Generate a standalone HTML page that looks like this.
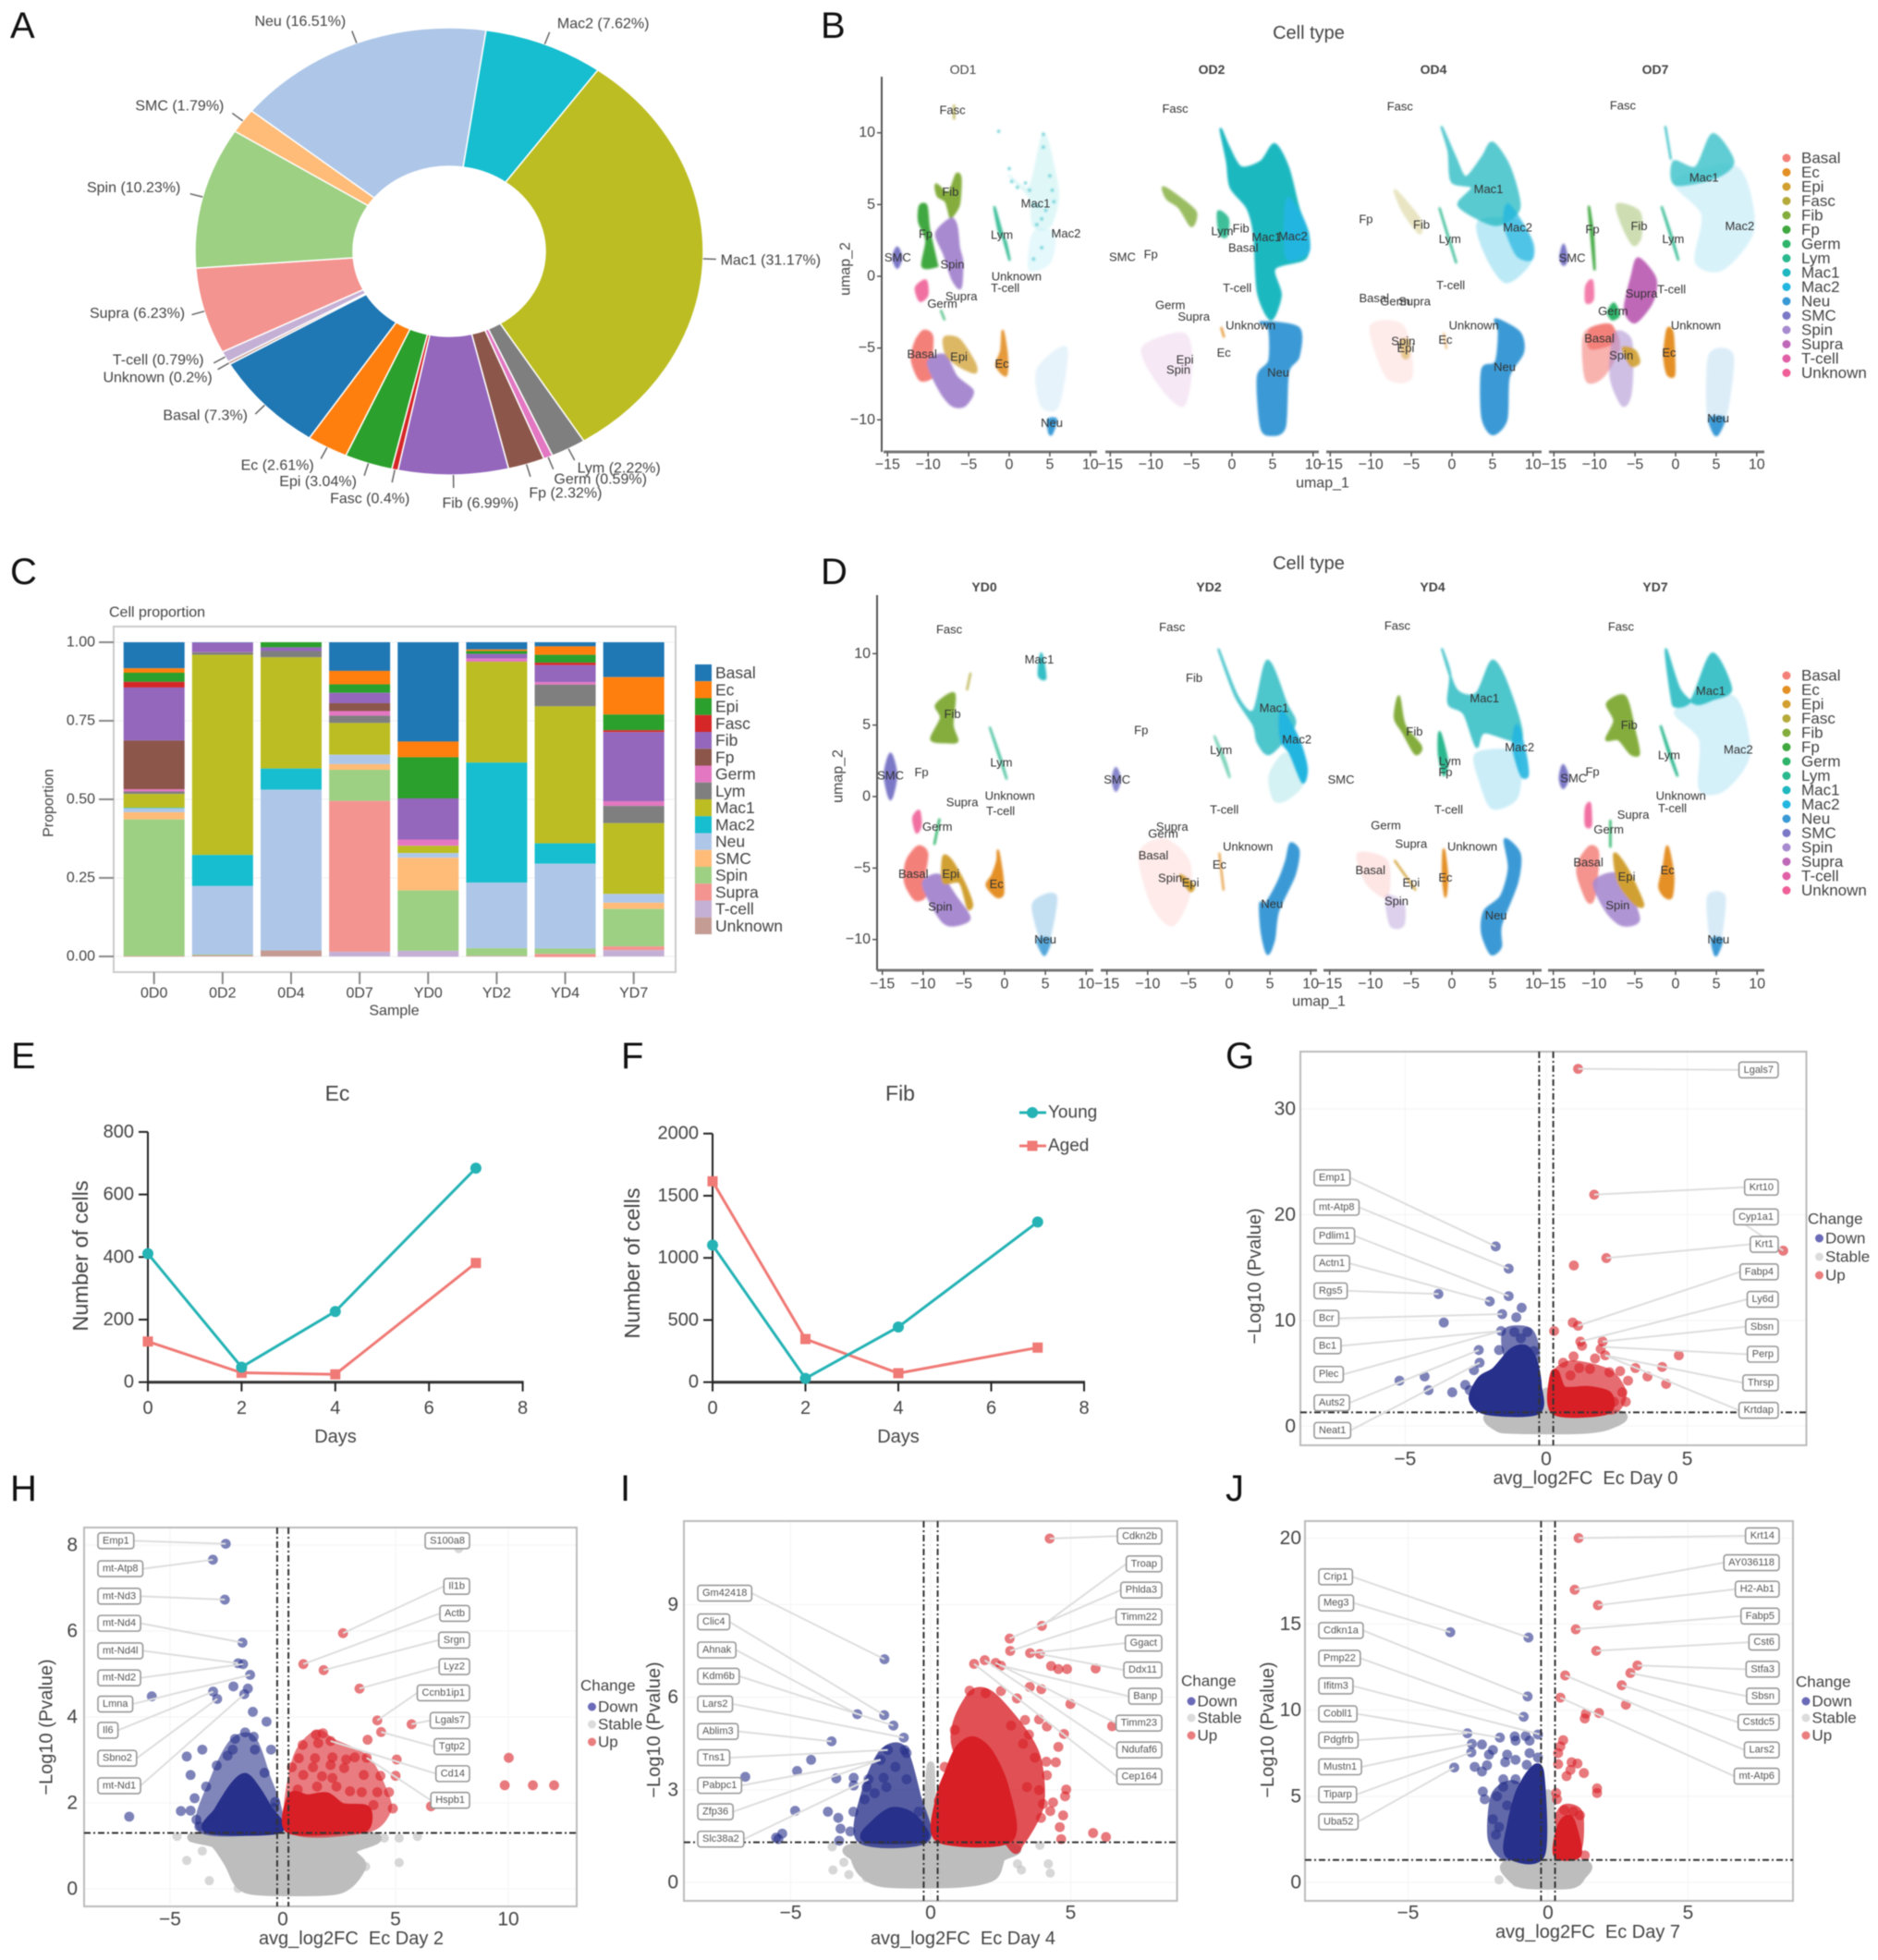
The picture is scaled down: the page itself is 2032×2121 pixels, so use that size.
<!DOCTYPE html>
<html lang="en">
<head>
<meta charset="utf-8">
<title>Cell type composition figure</title>
<style>
html,body{margin:0;padding:0;background:#fff;}
svg{display:block;filter:blur(0.5px);}
text{font-family:"Liberation Sans",sans-serif;fill:#444;white-space:pre;}
.letter{font-size:40px;fill:#111;}
</style>
</head>
<body>
<svg id="fig" xmlns="http://www.w3.org/2000/svg" width="2032" height="2121" viewBox="0 0 2032 2121">
<defs><filter id="soft" x="-5%" y="-5%" width="110%" height="110%"><feGaussianBlur stdDeviation="1.1"/></filter></defs>
<rect width="2032" height="2121" fill="#fff"/>
<text class="letter" x="11" y="41">A</text>
<text class="letter" x="888" y="41">B</text>
<text class="letter" x="11" y="632">C</text>
<text class="letter" x="888" y="632">D</text>
<text class="letter" x="12" y="1156">E</text>
<text class="letter" x="672" y="1156">F</text>
<text class="letter" x="1326" y="1156">G</text>
<text class="letter" x="11" y="1624">H</text>
<text class="letter" x="671" y="1624">I</text>
<text class="letter" x="1326" y="1624">J</text>
<g id="pA"></g>
<g id="pB"></g>
<g id="pC"></g>
<g id="pD"></g>
<g id="pE"></g>
<g id="pF"></g>
<g id="pG"></g>
<g id="pH"></g>
<g id="pI"></g>
<g id="pJ"></g>
</svg>
<script>
/* ===== Panel A data ===== */
const pieCategories=['Mac1','Lym','Germ','Fp','Fib','Fasc','Epi','Ec','Basal','Unknown','T-cell','Supra','Spin','SMC','Neu','Mac2'];
const pieValues=[31.17,2.22,0.59,2.32,6.99,0.4,3.04,2.61,7.3,0.2,0.79,6.23,10.23,1.79,16.51,7.62];
const pieLabelOffsets=[[59,1.5],[48,9],[51,11.5],[38,18],[29,17],[-24,18],[-50,7],[-47,7.5],[-54,2],[-65,9],[-60,-3],[-59,-1],[-61,-6],[-57,-7.5],[-56,-10],[58,-9]];
const tableau={Basal:'#1f77b4',Ec:'#ff7f0e',Epi:'#2ca02c',Fasc:'#d62728',Fib:'#9467bd',Fp:'#8c564b',Germ:'#e377c2',Lym:'#7f7f7f',Mac1:'#bcbd22',Mac2:'#17becf',Neu:'#aec7e8',SMC:'#ffbb78',Spin:'#9dd083',Supra:'#f49490','T-cell':'#c5b0d5',Unknown:'#c49c94'};

/* ===== Panel C data ===== */
const stackSamples=['0D0','0D2','0D4','0D7','YD0','YD2','YD4','YD7'];
const stackTypes=['Basal','Ec','Epi','Fasc','Fib','Fp','Germ','Lym','Mac1','Mac2','Neu','SMC','Spin','Supra','T-cell','Unknown'];
const stack0D0=[.083,.014,.029,.018,.169,.155,.007,.008,.044,.002,.012,.023,.435,.001,0,.001];
const stack0D2=[.001,0,0,0,.03,0,.001,.008,.637,.099,.218,0,.002,0,0,.004];
const stack0D4=[0,0,.016,0,.012,0,0,.02,.354,.067,.512,0,0,0,0,.019];
const stack0D7=[.091,.043,.027,0,.033,.025,.015,.023,.101,0,.03,.018,.099,.48,.015,0];
const stackYD0=[.316,.05,.131,0,.131,0,.02,0,.023,0,.015,.104,.192,0,.019,0];
const stackYD2=[.023,.005,.009,0,.015,0,.01,0,.321,.382,.209,0,.024,0,0,.002];
const stackYD4=[.013,.027,.025,.008,.054,0,.008,.069,.436,.065,.27,0,.017,.01,0,0];
const stackYD7=[.111,.119,.05,.006,.22,0,.015,.055,.225,0,.028,.02,.119,.012,.02,0];
const stackTicks=[0,.25,.5,.75,1];

/* ===== Panels E/F data ===== */
const dayValues=[0,2,4,7];
const ecYoung=[411,48,226,684];
const ecAged=[130,30,25,381];
const fibYoung=[1103,30,444,1289];
const fibAged=[1616,347,72,278];
const ecYTicks=[0,200,400,600,800];
const fibYTicks=[0,500,1000,1500,2000];
const dayTicks=[0,2,4,6,8];

/* ===== Panels B/D data (cluster outlines and labels in umap units) ===== */
const umapColors={Basal:'#f4807a',Ec:'#e49025',Epi:'#d1a030',Fasc:'#b5aa3a',Fib:'#84ad3d',Fp:'#3fa83f',Germ:'#2eb56b',Lym:'#2ab88f',Mac1:'#1fb8c0',Mac2:'#22b5e0',Neu:'#3a9ad6',SMC:'#7b78c8',Spin:'#a88ad0',Supra:'#c068b8','T-cell':'#e060a8',Unknown:'#f06098'};
const umapLegendNames=['Basal','Ec','Epi','Fasc','Fib','Fp','Germ','Lym','Mac1','Mac2','Neu','SMC','Spin','Supra','T-cell','Unknown'];
const umapXTicks=[-15,-10,-5,0,5,10];
const umapYTicks=[-10,-5,0,5,10];
const od1Layers=[
['Mac1',.12,[[0,7],[2.5,6.2],[4.2,9.9],[5.5,7.5],[6,5.5],[5,3.5],[3,3.5],[2.5,5.5]]],
['Mac2',.1,[[3,3],[5.5,3],[5,1],[2.5,.5]]],
['Mac1','d',[[-1.3,10.1],[4.2,9.9],[4.2,9],[0,7.5],[.3,6.6],[1,6.2],[2,6.5],[2.5,6],[3,5],[3.6,4.9],[4.5,4.6],[4,4],[3.4,3.6],[5,7],[5.3,6],[5.5,5.2],[4,2],[3,1.2]]],
['Lym',.9,[[-1.8,4.8],[-1.2,3],[-.5,2.5],[0,1.2]]],
['Fib',1,[[-9,6.4],[-7.5,5.8],[-6.5,7.1],[-6,6.8],[-6.2,5],[-7,4.2],[-7.2,4],[-7.8,5.2],[-8.8,5.6]]],
['Fp',1,[[-11,4.9],[-10.2,4.9],[-9.9,3.3],[-9,1],[-9,.7],[-10.7,.7],[-10.2,2.5],[-11.1,3.8]]],
['Spin',1,[[-7.2,4],[-6.5,3.5],[-6.2,2],[-5.8,1],[-6,-.8],[-7,-.2],[-8,1.5],[-9,3]]],
['SMC',1,[[-13.8,2],[-13.3,1.3],[-13.8,.6],[-14.3,1.3]]],
['Unknown',.9,[[-11.5,-.8],[-10.3,-.3],[-10.1,-1.3],[-11,-1.7]]],
['Germ',.8,[[-8.4,-2.4],[-8,-3]]],
['Basal',1,[[-10.5,-3.8],[-9.5,-4.2],[-9.6,-6],[-9.5,-7],[-11,-7.2],[-12,-5.8],[-11.5,-4.5]]],
['Spin',1,[[-10,-6],[-8,-5.5],[-6.5,-7],[-4.5,-8],[-5.5,-9],[-7,-9],[-8.5,-8]]],
['Epi',.75,[[-8,-4.3],[-6.2,-4.4],[-4.3,-6],[-4.2,-6.7],[-6,-6.3],[-7.7,-5.5]]],
['Ec',.9,[[-.8,-3.8],[-.3,-5.5],[-.4,-6.9],[-1.6,-6.2],[-1,-5.2]]],
['Neu',.12,[[3.5,-6.5],[7,-5],[6,-9],[4,-9]]],
['Neu',1,[[4.8,-10],[5.8,-10],[5.2,-11],[4.9,-10.8]]],
['Fasc',.8,[[-6.8,11.9],[-6.8,11]]]
];
const od2Layers=[
['Fib',.8,[[-8.5,6.2],[-7,5.7],[-4.5,4.5],[-5,3.5],[-6.5,4.8],[-8,5.4]]],
['Lym',.9,[[-1.7,4.5],[-.5,4],[-.7,2.8],[-1.5,3]]],
['Ec',.9,[[-1.3,-3.6],[-1,-4.2]]],
['Mac1',1,[[-1.4,10.25],[-.4,9],[1.1,7.6],[3.6,8],[5.25,9.2],[6.9,7.6],[8.2,4.75],[9.4,2.9],[9,1.25],[5.25,.55],[6,-1.3],[4.8,-3],[3.2,-1.1],[2.75,2.9],[1.9,4.75],[-.15,6.2],[-.6,8]]],
['Mac2',1,[[6.9,5.45],[9,3.6],[9.4,1.7],[6.9,1.2],[6.5,3]]],
['Neu',1,[[3.6,-3.2],[8.2,-3.6],[8.2,-5.6],[6.9,-6.7],[6.5,-10.5],[4.8,-11.05],[3.6,-10.5],[3.2,-7],[4.6,-5.9],[4.6,-3.7]]],
['Supra',.15,[[-11,-5],[-6,-4],[-5,-6],[-6,-9],[-9,-7.5]]]
];
const od4Layers=[
['Lym',.9,[[-1.5,4.7],[-.5,2.8],[.5,1]]],
['Fasc',.3,[[-7,6],[-4,4],[-4,3],[-6,4.5]]],
['Mac2',.3,[[3.3,3.8],[8.3,3.8],[9.8,1.25],[6.7,-.4],[4.2,1.5]]],
['Mac1',.75,[[-1.25,10.4],[.4,8.3],[1.7,6.9],[3.75,8.3],[5,9.3],[7.1,7.6],[8.3,4.75],[5.8,3.6],[3.3,4],[.8,5],[2.5,6.2],[0,6.6],[-.4,8.7]]],
['Mac2',.7,[[7,5],[9.8,2.5],[9.8,1.2],[8,1.5],[6.5,3.6]]],
['Neu',1,[[5.4,-3],[8.3,-3.9],[8.75,-5.3],[7,-7],[6.7,-10],[5,-11],[3.75,-9.8],[3.75,-6.5],[5.4,-6],[5.8,-3.9]]],
['Basal',.15,[[-10,-3.5],[-6,-3.5],[-5,-7],[-8,-7]]],
['Epi',.5,[[-6.3,-4.5],[-5.3,-4.5],[-5.4,-5.6],[-6,-5.6]]],
['Ec',.5,[[-1,-4],[-.7,-5]]]
];
const od7Layers=[
['Mac2',.18,[[0,6.6],[7.5,7.6],[9.6,3.35],[5.8,.5],[2.5,1],[3.3,4.3]]],
['Mac1',.7,[[4.6,9.9],[7.1,8],[5,6.9],[0,6.4],[-.2,8],[2.5,7.6]]],
['Mac1',.8,[[-1.25,10.4],[-.6,8.2]]],
['Lym',.9,[[-1.7,4.8],[-.5,2.8],[.3,1.2]]],
['Fp',.95,[[-10.7,4.8],[-10.2,3],[-10,.5]]],
['Fib',.4,[[-7.2,5],[-4.5,4.5],[-4.3,2.8],[-5.2,2.2],[-6.5,3.5]]],
['SMC',1,[[-13.8,2.2],[-13.4,1.2],[-13.8,.8],[-14.2,1.3]]],
['Unknown',.8,[[-11,-.7],[-10.3,-.3],[-10.2,-1.6],[-11,-1.8]]],
['Supra',1,[[-4.6,1.25],[-2.5,-.15],[-2.9,-1.8],[-5,-3.2],[-6.25,-2.3],[-5.4,0]]],
['Germ',1,[[-7.6,-1.9],[-7,-2.7],[-7.8,-3],[-8.3,-2.5]]],
['Basal',.6,[[-11.2,-4],[-8,-3.5],[-7,-5],[-9,-7],[-11,-7.2]]],
['Basal',1,[[-10.5,-3.7],[-8,-3.4],[-7.7,-4.6],[-10.5,-5]]],
['Spin',.55,[[-7.5,-4],[-5.5,-4.5],[-5.5,-8],[-6.5,-9],[-8,-7]]],
['Epi',.9,[[-6.5,-5],[-5,-5.2],[-4.5,-6],[-5.5,-6.2]]],
['Ec',1,[[-1,-3.7],[-.4,-3.9],[-.2,-5.5],[-.2,-6.9],[-1,-6.8],[-1.4,-5.5]]],
['Neu',.18,[[4.2,-5.5],[7,-5.5],[6.25,-9.5],[5,-10.5],[4,-9.8]]],
['Neu',1,[[4.2,-9.9],[6,-9.9],[5.2,-11],[4.7,-10.9]]]
];
const yd0Layers=[
['Mac1',.9,[[4.5,10],[4.2,8.5],[5,8.3]]],
['Lym',.8,[[-1.8,4.8],[-.5,2.7],[.2,1.3]]],
['Fasc',.8,[[-4.2,8.6],[-4.6,7.5]]],
['Fib',1,[[-8.4,6.4],[-6.2,7.2],[-6.4,5],[-5.8,3.9],[-7,3.8],[-9,4],[-7.8,5.5]]],
['SMC',1,[[-14,3],[-13.3,1.5],[-14,-.2],[-14.7,1.5]]],
['Germ',1,[[-8,-1.6],[-8.6,-3.3]]],
['Unknown',.9,[[-11.2,-1.5],[-10.5,-1],[-10.3,-2],[-10.8,-2.5]]],
['Basal',1,[[-10.6,-3.5],[-9.5,-4],[-10,-6],[-9.8,-7],[-11,-7.2],[-12.2,-6],[-12,-4.5]]],
['Spin',1,[[-10,-6],[-8,-5.5],[-6,-7],[-4.3,-8.5],[-6,-9],[-7.5,-8.8],[-9,-7.5]]],
['Epi',1,[[-7.5,-4.2],[-6.5,-4.5],[-5,-6],[-4,-7.5],[-4.5,-7.8],[-5.5,-6],[-7.5,-6]]],
['Ec',1,[[-.8,-3.8],[-.3,-5.5],[-.2,-6.8],[-1,-7],[-2.2,-6.2],[-1.5,-5.5],[-.9,-4.5]]],
['Neu',.3,[[3.5,-7.5],[6.3,-7],[5,-11],[4.4,-10]]],
['Neu',.8,[[4,-10],[5.6,-10],[5,-11],[4.6,-10.9]]]
];
const yd2Layers=[
['Mac1',.2,[[7,3],[9,1],[7,-.2],[5.5,-.2],[5,1.5]]],
['Mac1',.8,[[-1.3,10.3],[1,7],[3,6],[4.7,9.5],[7,6.5],[8,5],[5,3],[3.5,3.8],[3,5],[.8,7]]],
['Mac2',1,[[6.5,6],[8.5,4],[9.5,2],[9,1],[7.5,3],[6.5,3.8],[6.2,5]]],
['Neu',1,[[7.5,-3.3],[8.5,-3.8],[8,-5.5],[6,-8],[5.5,-10],[4.7,-11],[4,-9.5],[3.8,-7.5],[4.5,-7.5],[6,-6],[7,-4.5]]],
['Basal',.16,[[-11,-4],[-8,-3],[-5,-4.5],[-5,-7],[-7,-9],[-9.5,-7.5]]],
['Ec',.8,[[-1.2,-4],[-.7,-6.5]]],
['Lym',.6,[[-1.8,4.2],[-.5,2.5],[0,1.4]]],
['SMC',.9,[[-13.9,2],[-13.4,1.2],[-13.9,.4],[-14.3,1.2]]],
['Epi',1,[[-6,-5.5],[-4.4,-6.2],[-4.8,-6.6]]]
];
const yd4Layers=[
['Mac2',.24,[[3,3],[8,3],[8,0],[5,-.8],[3.5,1]]],
['Mac1',.8,[[-1.2,10.3],[.5,7.5],[3,7.2],[5,9.5],[7,7.5],[8.5,4],[4,4.5],[3,3.5],[1.5,5.8],[-.4,6.5],[-.2,8.5]]],
['Mac2',.9,[[8,5],[9,3],[9.3,1.5],[8.5,1.5],[7.5,3.5]]],
['Neu',1,[[6.5,-3],[8.3,-4],[8,-6],[6,-9],[6,-10.5],[4.8,-11],[3.7,-9.5],[4,-8],[6,-7],[7,-5]]],
['Fib',1,[[-6.5,7],[-5.8,5],[-3.8,3.5],[-4.5,3],[-6,4.5],[-7,5.5]]],
['Lym',1,[[-1.5,4.5],[-.6,2.5],[-1,1.5],[-1.6,3]]],
['Basal',.2,[[-11.5,-4],[-8,-4.5],[-8,-7],[-10.5,-6]]],
['Spin',.4,[[-8,-7],[-6,-7.5],[-6,-9],[-7.5,-9]]],
['Epi',.9,[[-7,-4.5],[-4.5,-6.5]]],
['Ec',1,[[-1,-3.7],[-.6,-5.5],[-.8,-7],[-1.1,-5.5]]]
];
const yd7Layers=[
['Mac2',.2,[[0,6],[7,7],[9,3],[6,.5],[3,.5],[3,4]]],
['Mac1',.85,[[-1.2,10.3],[-.5,7],[0,6.3],[2,6.8],[4.5,10],[6.8,7.5],[4.5,6.8],[2.5,6.5],[.5,7.5]]],
['Fib',1,[[-8.4,6.5],[-6.2,7],[-5,4.5],[-4.5,3],[-5.5,3],[-7,4],[-8.5,4],[-7.5,5.3]]],
['Lym',1,[[-1.8,4.9],[-.8,3],[.2,1.5]]],
['SMC',1,[[-13.8,2.2],[-13.2,1.3],[-13.8,.6],[-14.2,1.3]]],
['Unknown',.9,[[-11,-.8],[-10.5,-.5],[-10.4,-2],[-11,-2]]],
['Germ',1,[[-8,-1.7],[-8,-3.5]]],
['Basal',.85,[[-10.5,-3.5],[-9.5,-4],[-10,-7],[-10.8,-7.3],[-12,-5.5],[-11.8,-4.5]]],
['Spin',.9,[[-10,-6],[-7,-5.5],[-4.5,-8.5],[-6.5,-9],[-8.5,-8]]],
['Epi',1,[[-7.5,-4],[-6,-5],[-4,-7.5],[-5,-7.5],[-7,-6]]],
['Ec',1,[[-1,-3.5],[-.3,-5.5],[-.5,-7],[-1.3,-7],[-2,-6.3],[-1.5,-5]]],
['Neu',.2,[[4,-7],[6,-7],[5.5,-10],[5,-11],[4.3,-10]]],
['Neu',1,[[4.5,-10],[5.7,-10],[5.1,-11],[4.8,-11]]]
];
const od1Labels=[['Fasc',-7,11.6],['Fib',-7.25,5.9],['Mac1',3.25,5.1],['Mac2',7,3],['Lym',-.9,2.9],['Fp',-10.3,2.95],['SMC',-13.75,1.33],['Spin',-7,.85],['Unknown',.9,0],['T-cell',-.5,-.8],['Supra',-5.9,-1.4],['Germ',-8.25,-1.9],['Basal',-10.75,-5.4],['Epi',-6.2,-5.6],['Ec',-.9,-6.1],['Neu',5.25,-10.2]];
const od2Labels=[['Fasc',-7,11.7],['Fib',1.1,3.35],['Lym',-1.2,3.15],['Mac1',4.25,2.75],['Mac2',7.5,2.8],['Basal',1.4,2],['SMC',-13.5,1.35],['Fp',-10,1.55],['T-cell',.65,-.8],['Germ',-7.6,-2],['Supra',-4.7,-2.8],['Unknown',2.3,-3.4],['Ec',-1,-5.3],['Epi',-5.8,-5.8],['Spin',-6.6,-6.5],['Neu',5.7,-6.7]];
const od4Labels=[['Fasc',-6.4,11.85],['Fp',-10.6,4],['Mac1',4.5,6.1],['Mac2',8.1,3.4],['Fib',-3.75,3.6],['Lym',-.25,2.6],['T-cell',-.15,-.6],['Basal',-9.6,-1.5],['Germ',-7,-1.75],['Supra',-4.6,-1.75],['Unknown',2.7,-3.4],['Ec',-.8,-4.4],['Spin',-6,-4.5],['Epi',-5.7,-5],['Neu',6.5,-6.3]];
const od7Labels=[['Fasc',-6.5,11.9],['Mac1',3.5,6.9],['Mac2',7.9,3.5],['Fp',-10.25,3.3],['Fib',-4.5,3.5],['Lym',-.3,2.6],['SMC',-12.75,1.3],['T-cell',-.5,-.9],['Supra',-4.2,-1.2],['Germ',-7.7,-2.4],['Unknown',2.5,-3.4],['Basal',-9.4,-4.3],['Ec',-.8,-5.3],['Spin',-6.7,-5.5],['Neu',5.25,-9.9]];
const yd0Labels=[['Fasc',-6.8,11.7],['Mac1',4.25,9.6],['Fib',-6.4,5.8],['Lym',-.4,2.4],['Fp',-10.2,1.7],['SMC',-14,1.5],['Unknown',.65,.05],['Supra',-5.2,-.4],['T-cell',-.5,-1],['Germ',-8.25,-2.1],['Basal',-11.2,-5.4],['Epi',-6.6,-5.4],['Ec',-1,-6.1],['Spin',-7.9,-7.7],['Neu',5,-10]];
const yd2Labels=[['Fasc',-7,11.85],['Fib',-4.3,8.3],['Mac1',5.5,6.2],['Fp',-10.8,4.65],['Mac2',8.3,4],['Lym',-1,3.25],['SMC',-13.75,1.2],['T-cell',-.6,-.9],['Supra',-7,-2.1],['Germ',-8.1,-2.6],['Unknown',2.3,-3.5],['Basal',-9.3,-4.1],['Ec',-1.2,-4.75],['Spin',-7.25,-5.7],['Epi',-4.75,-6],['Neu',5.25,-7.5]];
const yd4Labels=[['Fasc',-6.7,11.95],['Mac1',4,6.9],['Fib',-4.6,4.55],['Mac2',8.3,3.45],['Lym',-.25,2.5],['Fp',-.8,1.7],['SMC',-13.6,1.2],['T-cell',-.4,-.9],['Germ',-8.1,-2],['Supra',-5,-3.3],['Unknown',2.5,-3.5],['Basal',-10,-5.15],['Ec',-.8,-5.65],['Epi',-5,-6],['Spin',-6.8,-7.3],['Neu',5.4,-8.3]];
const yd7Labels=[['Fasc',-6.7,11.9],['Mac1',4.3,7.4],['Fib',-5.7,5],['Mac2',7.7,3.3],['Lym',-.8,2.9],['Fp',-10.2,1.75],['SMC',-12.5,1.3],['Unknown',.65,.05],['T-cell',-.4,-.8],['Supra',-5.2,-1.25],['Germ',-8.2,-2.3],['Basal',-10.7,-4.6],['Ec',-1,-5.15],['Epi',-6,-5.6],['Spin',-7.1,-7.6],['Neu',5.25,-10]];

/* ===== Volcano data: log2FC / -log10 p ===== */
const gXTicks=[-5,0,5];
const gYTicks=[0,10,20,30];
const gUp=[[1.13,33.8],[1.7,21.9],[2.13,15.9],[.98,15.2],[8.4,16.6],[.94,9.8],[1.13,9.5],[.28,9],[1.21,8],[1.27,7.6],[2,8],[4.7,6.7],[2.09,6.7],[.97,6.6],[1.73,6.4],[3.16,5.5],[4.11,5.6],[2.62,5.2],[2.24,5.1],[3.59,4.7],[2.9,4.3],[4.25,4],[2.7,3.2],[2.82,2.3],[2.4,2.3],[.6,6],[1.17,5.5],[1.55,5.4],[.86,4.8],[1.93,7.3]];
const gDown=[[-1.79,17],[-1.33,14.9],[-1.33,12.3],[-3.82,12.5],[-2,11.8],[-.87,11.2],[-1.56,10.6],[-1.06,10.3],[-3.63,9.8],[-1.6,9],[-1.13,8.9],[-.67,8.9],[-.9,8.3],[-2.39,7.2],[-1.67,7.2],[-.44,7.1],[-2.36,6],[-2.56,5.3],[-4.31,4.7],[-5.2,4.3],[-4.17,3.4],[-3.33,3.2],[-2.87,3.9],[-2.71,3.4],[-2.56,2.5]];
const gStable=[[-1.7,.5],[2.5,.5]];
const gDownCore=[[-2.6,2.6],[-2.3,4.4],[-1.8,5.2],[-1.2,7],[-.75,7.3],[-.45,6.1],[-.3,3.8],[-.35,1.45],[-2.1,1.45]];
const gDownHalo=[[-1.3,6.5],[-1.4,8.9],[-.6,8.9],[-.4,6.5]];
const gUpCore=[[.3,1.45],[.3,5],[.6,3.4],[1.5,3.4],[2.2,2.9],[2.1,1.45]];
const gUpHalo=[[.3,4],[.8,5.8],[2.2,5],[2.7,3],[2.2,1.5]];
const gStableCore=[[-1.8,1.1],[2.5,1.1],[2.2,.1],[1.2,-.3],[-1,-.3],[-1.7,-.1]];
const gStableHalo=[[-.35,1.2],[0,3.3],[.3,1.2]];
const gLeftLabels=[['Emp1',23.5,-1.79,17],['mt-Atp8',20.7,-1.33,14.9],['Pdlim1',18,-1.33,12.3],['Actn1',15.4,-2,11.8],['Rgs5',12.8,-3.82,12.5],['Bcr',10.2,-1.56,10.6],['Bc1',7.6,-1.6,9],['Plec',4.9,-1.6,9],['Auts2',2.2,-2.39,7.2],['Neat1',-.4,-2.36,6]];
const gRightLabels=[['Lgals7',33.7,1.13,33.8],['Krt10',22.6,1.7,21.9],['Cyp1a1',19.8,8.4,16.6],['Krt1',17.2,2.13,15.9],['Fabp4',14.6,1.13,9.5],['Ly6d',12,1.21,8],['Sbsn',9.4,2,8],['Perp',6.8,2,7.5],['Thrsp',4.1,2.09,6.7],['Krtdap',1.5,2.09,6.7]];

const hXTicks=[-5,0,5,10];
const hYTicks=[0,2,4,6,8];
const hUp=[[2.67,5.95],[.91,5.23],[1.81,5.09],[3.4,4.66],[4.19,3.92],[5.71,3.83],[4.36,3.65],[1.78,3.62],[1.47,3.59],[2.12,3.44],[3.76,3.47],[.88,3.35],[1.57,3.39],[.71,3.04],[1.43,3.04],[2.2,3.06],[2.81,3.01],[3.19,3.06],[3.72,3.05],[5.05,3.01],[10.02,3.05],[.4,2.83],[1.34,2.83],[2.12,2.88],[2.72,2.81],[.91,2.65],[1.74,2.62],[2.2,2.58],[3.59,2.65],[4.33,2.63],[5,2.63],[9.84,2.41],[11.09,2.41],[12.03,2.41],[1.52,2.38],[2.38,2.38],[.66,2.31],[2.98,2.27],[3.5,2.25],[4.19,2.25],[4.71,2.25],[4.02,1.95],[4.88,1.87],[6.57,1.92],[3.64,1.54]];
const hDown=[[-2.53,8.03],[-3.1,7.66],[-2.57,6.73],[-1.79,5.73],[-1.98,5.25],[-1.76,5.23],[-1.45,4.98],[-2.19,4.71],[-1.55,4.66],[-1.71,4.53],[-3.09,4.59],[-2.91,4.42],[-5.81,4.48],[-1.33,4.12],[-.72,3.89],[-1.67,3.64],[-1.29,3.54],[-2.12,3.49],[-1.24,3.24],[-.52,3.24],[-2.22,3.24],[-3.57,3.24],[-4.26,3.08],[-2.45,3.1],[-2.93,2.87],[-4.09,2.65],[-.81,2.7],[-3.4,2.38],[-3.91,2.11],[-4.52,1.81],[-4.09,1.82],[-6.81,1.68],[-3.83,1.61],[-.34,2.02],[-.38,1.88],[-3.7,1.45],[-3.14,1.63]];
const hStable=[[-4.69,1.22],[-3.57,.88],[-4.26,.66],[-3.26,.19],[-1.98,.01],[4.5,1.18],[5.16,1.18],[5.97,1.22],[5.16,.61],[3.67,.52],[7.8,7.92]];
const hDownCore=[[-3.3,1.38],[-2.88,1.81],[-2.19,2.38],[-1.67,2.6],[-1.16,2.3],[-.64,1.85],[-.2,1.38]];
const hDownHalo=[[-3.6,1.4],[-3,2.6],[-2.2,3.4],[-1.4,3.5],[-.8,2.7],[-.3,1.5]];
const hUpCore=[[.3,1.38],[.4,2.15],[1.09,2.1],[1.95,2.15],[2.64,1.9],[3.7,1.85],[3.7,1.45],[2.98,1.38]];
const hUpHalo=[[.4,1.4],[.6,3],[1.5,3.6],[2.2,3.4],[3.7,3],[4.5,2.2],[4.6,1.8],[3.7,1.4]];
const hStableCore=[[-3.7,1.22],[3.9,1.22],[3,.9],[3.5,.55],[2.9,.1],[2,-.05],[-1,-.05],[-1.9,.1],[-2.4,.6],[-3,1.05]];
const hStableHalo=[[-.25,1.22],[0,1.3],[.25,1.22]];
const hLeftLabels=[['Emp1',8.1,-2.53,8.03],['mt-Atp8',7.45,-3.1,7.66],['mt-Nd3',6.81,-2.57,6.73],['mt-Nd4',6.18,-1.79,5.73],['mt-Nd4l',5.54,-1.98,5.25],['mt-Nd2',4.91,-1.76,5.23],['Lmna',4.3,-1.45,4.98],['Il6',3.69,-3.09,4.59],['Sbno2',3.04,-2.91,4.42],['mt-Nd1',2.4,-1.71,4.53]];
const hRightLabels=[['S100a8',8.1,7.8,7.92],['Il1b',7.04,2.67,5.95],['Actb',6.41,.91,5.23],['Srgn',5.79,1.81,5.09],['Lyz2',5.17,3.4,4.66],['Ccnb1ip1',4.56,4.19,3.92],['Lgals7',3.92,5.71,3.83],['Tgtp2',3.31,4.36,3.65],['Cd14',2.68,2.12,3.44],['Hspb1',2.06,3.72,3.05]];

const iXTicks=[-5,0,5];
const iYTicks=[0,3,6,9];
const iUp=[[4.25,11.14],[3.97,8.31],[2.82,7.9],[2.84,7.5],[3.55,7.43],[3.9,7.4],[1.55,7.08],[1.93,7.2],[2.32,7.11],[2.51,7.02],[4.3,7.01],[4.56,6.91],[4.87,6.91],[5.89,6.93],[3.54,6.33],[3.95,6.26],[4.99,5.78],[1.39,6.21],[1.96,6.13],[2.51,6.2],[3.08,5.96],[6.48,5.06],[4.15,5.05],[3.37,5.26],[3.87,5.28],[4.76,4.81],[.86,4.94],[4.56,4.39],[4.47,3.89],[4.13,3.91],[4.15,3.47],[4.84,3.01],[4.8,2.79],[4.37,2.59],[4.01,2.54],[4.27,2.31],[4.73,2.17],[4.61,1.79],[5.8,1.6],[6.26,1.47],[4.66,1.4],[3.94,2.09],[.5,3.74],[.29,2.64],[3.44,3.09],[2.87,5.08],[3.51,4.79],[3.3,4.49],[3.87,2.99],[3.72,4.04]];
const iDown=[[-1.65,7.23],[-2.62,5.45],[-1.66,5.42],[-1.33,5.08],[-.96,4.69],[-3.54,4.57],[-1.53,4.29],[-.93,4.29],[-.86,4.19],[-4.27,3.97],[-4.77,3.61],[-6.62,3.42],[-1.79,3.97],[-1.26,3.74],[-3.37,3.37],[-2.75,3.39],[-2.75,3.14],[-2.22,3.34],[-1.68,3.39],[-.86,3.34],[-4.84,2.32],[-3.67,2.29],[-3.3,2.09],[-2.76,2.29],[-3.22,1.74],[-2.87,1.65],[-3.27,1.35],[-5.3,1.58],[-5.52,1.45],[-5.44,1.4],[-2.36,2.69],[-.43,2.29],[-2.29,3.09],[-1.58,3.09],[-2,2.89]];
const iStable=[[-3.49,.4],[-2.92,.25],[3.1,.6],[3.24,.4],[4.2,.6],[4.27,.3],[3.9,1.2],[-3.52,1.15],[-3.1,.65],[-2.29,.15]];
const iDownCore=[[-2.3,1.42],[-2,1.9],[-1.4,2.3],[-.8,2.2],[-.35,1.8],[-.32,1.42]];
const iDownHalo=[[-2.5,1.4],[-2.3,3],[-1.7,4.2],[-1,4.3],[-.5,2.8],[-.2,1.4]];
const iUpCore=[[.31,1.42],[.31,2.69],[.62,3.5],[1,4.3],[1.5,4.6],[2.08,4.2],[2.65,3.05],[2.8,1.42]];
const iUpHalo=[[.9,4.4],[1.4,6],[2.1,6.1],[3.2,5],[3.8,4],[3.9,2.5],[3.2,1.3],[2.8,1.3]];
const iStableCore=[[-2.6,1.12],[2.8,1.12],[2.5,.8],[2.2,.2],[1,-.02],[-1.6,-.02],[-2.4,.3],[-2.7,.8]];
const iStableHalo=[[-.2,1.2],[0,3.8],[.05,1.2]];
const iLeftLabels=[['Gm42418',9.37,-1.65,7.23],['Clic4',8.44,-1.66,5.42],['Ahnak',7.53,-2.62,5.45],['Kdm6b',6.68,-1.33,5.08],['Lars2',5.78,-.96,4.69],['Ablim3',4.89,-3.54,4.57],['Tns1',4.04,-1.53,4.29],['Pabpc1',3.14,-1.79,3.97],['Zfp36',2.29,-1.79,3.97],['Slc38a2',1.4,-2.22,3.34]];
const iRightLabels=[['Cdkn2b',11.22,4.25,11.14],['Troap',10.32,3.97,8.31],['Phlda3',9.47,2.82,7.9],['Timm22',8.6,2.84,7.5],['Ggact',7.75,3.55,7.43],['Ddx11',6.88,3.9,7.4],['Banp',6.03,2.51,7.02],['Timm23',5.16,2.32,7.11],['Ndufaf6',4.29,1.93,7.2],['Cep164',3.43,1.55,7.08]];

const jXTicks=[-5,0,5];
const jYTicks=[0,5,10,15,20];
const jUp=[[1.09,20],[.95,17],[1.78,16.1],[.99,14.7],[1.72,13.45],[3.19,12.6],[2.94,12.16],[.61,12.02],[2.63,11.45],[.44,10.73],[2.78,10.32],[1.35,9.8],[1.82,9.84],[1.31,9.52],[.54,8.26],[.44,7.9],[.36,7.51],[.36,6.87],[.84,6.98],[1.05,6.9],[.8,6.53],[.66,6.17],[1.28,6.35],[1.75,5.46],[1.75,5.19],[.29,5.19],[.32,4.83],[1.14,3.9],[.58,4.2],[.9,4.11],[1.31,1.57]];
const jDown=[[-.7,14.22],[-3.49,14.53],[-.73,10.8],[-.87,9.62],[-2.88,8.66],[-1.72,8.41],[-1.19,8.48],[-.8,8.5],[-.36,8.59],[-1.16,8.23],[-.66,8.23],[-2.72,8.05],[-2.36,8.01],[-2.74,7.55],[-1.97,7.69],[-2.11,7.42],[-1.46,7.42],[-.66,7.51],[-.36,7.25],[-1.53,6.98],[-1.16,7.12],[-.76,6.83],[-3.35,6.67],[-2.62,6.71],[-2.18,6.8],[-2.36,6.44],[-1.6,5.99],[-1.16,5.99],[-2.33,5.28],[-1.82,5],[-2.26,4.83],[-1.6,5.55],[-1.97,3.67],[-1.75,3.22],[-1.86,2.77],[-1.46,4.47]];
const jStable=[[-1.75,.15],[-1.13,0]];
const jDownCore=[[-1.4,1.65],[-1.31,3.4],[-1.02,5.19],[-.58,6.4],[-.28,6.3],[-.25,1.65]];
const jDownHalo=[[-2,2.5],[-1.9,5],[-1.3,5.7],[-1,5],[-1.4,1.6]];
const jUpCore=[[.33,1.65],[.46,3.2],[.73,3.7],[.9,3.1],[1.05,1.65]];
const jUpHalo=[[.4,3.5],[.6,4.3],[1.1,4],[1.05,2]];
const jStableCore=[[-1.4,1.05],[1.25,1.05],[1.2,.4],[.8,-.1],[-.8,-.1],[-1.3,.3]];
const jStableHalo=[[-.2,1.25],[-.1,4.5],[0,5.2],[.1,4.5],[.25,1.25]];
const jLeftLabels=[['Crip1',17.75,-.7,14.22],['Meg3',16.23,-3.49,14.53],['Cdkn1a',14.63,-.73,10.8],['Pmp22',13.02,-.87,9.62],['Ifitm3',11.41,-.3,8.6],['Cobll1',9.79,-1.72,8.41],['Pdgfrb',8.26,-2.88,8.66],['Mustn1',6.71,-2.72,8.05],['Tiparp',5.1,-2.74,7.55],['Uba52',3.52,-3.35,6.67]];
const jRightLabels=[['Krt14',20.13,1.09,20],['AY036118',18.57,.95,17],['H2-Ab1',17.03,1.78,16.1],['Fabp5',15.47,.99,14.7],['Cst6',13.95,1.72,13.45],['Stfa3',12.38,3.19,12.6],['Sbsn',10.82,2.94,12.16],['Cstdc5',9.3,2.63,11.45],['Lars2',7.69,.61,12.02],['mt-Atp6',6.17,.44,10.73]];

/* ===== Helpers ===== */
const NS='http://www.w3.org/2000/svg';
function mk(tag,attrs,parent,content){
  const e=document.createElementNS(NS,tag);
  for(const k in attrs)e.setAttribute(k,attrs[k]);
  if(content!==undefined)e.textContent=content;
  parent.appendChild(e);
  return e;
}
function txt(parent,x,y,s,size,anchor,extra){
  return mk('text',Object.assign({x:x,y:y,'font-size':size,'text-anchor':anchor||'middle','dominant-baseline':'central'},extra||{}),parent,s);
}
function minus(n){return String(n).replace('-','\u2212');}
function smooth(list,fx,fy){
  const P=list.map(p=>[fx(p[0]),fy(p[1])]),n=P.length;
  const f=v=>v.toFixed(1);
  if(n<3)return 'M'+f(P[0][0])+' '+f(P[0][1])+' L'+f(P[1][0])+' '+f(P[1][1]);
  let d='M'+f(P[0][0])+' '+f(P[0][1]);
  for(let i=0;i<n;i++){
    const p0=P[(i-1+n)%n],p1=P[i],p2=P[(i+1)%n],p3=P[(i+2)%n];
    d+=' C'+f(p1[0]+(p2[0]-p0[0])/7)+' '+f(p1[1]+(p2[1]-p0[1])/7)+' '+f(p2[0]-(p3[0]-p1[0])/7)+' '+f(p2[1]-(p3[1]-p1[1])/7)+' '+f(p2[0])+' '+f(p2[1]);
  }
  return d+' Z';
}

/* ===== Panel A ===== */
(function(){
  const g=document.getElementById('pA');
  const cx=486,cy=272,rx=275,ry=242,ix=104,iy=92;
  const total=pieValues.reduce((a,b)=>a+b,0);
  let a=35.8*Math.PI/180;
  pieCategories.forEach((c,i)=>{
    const d=pieValues[i]/total*2*Math.PI,b=a+d,m=(a+b)/2;
    const large=d>Math.PI?1:0;
    const P=(rX,rY,t)=>(cx+rX*Math.sin(t)).toFixed(2)+' '+(cy-rY*Math.cos(t)).toFixed(2);
    const path='M'+P(rx,ry,a)+' A'+rx+' '+ry+' 0 '+large+' 1 '+P(rx,ry,b)+' L'+P(ix,iy,b)+' A'+ix+' '+iy+' 0 '+large+' 0 '+P(ix,iy,a)+' Z';
    const s=mk('path',{d:path,fill:tableau[c],stroke:'#fff','stroke-width':1.5},g);
    
    
    const ex=cx+(rx+14)*Math.sin(m),ey=cy-(ry+14)*Math.cos(m);
    const l=mk('line',{x1:cx+rx*Math.sin(m),y1:cy-ry*Math.cos(m),x2:ex,y2:ey,stroke:'#666','stroke-width':1.5},g);
    
    
    const off=pieLabelOffsets[i];
    const t=txt(g,ex+off[0],ey+off[1],c+' ('+pieValues[i]+'%)',16);
    
    
    a=b;
  });
})();

/* ===== Panels B & D ===== */
function umap(g,cfg,layersList,labelsList,titles,boldAll){
  const fy=v=>cfg.y0-cfg.sy*v;
  const ax=mk('line',{x1:cfg.axisX,y1:cfg.top,x2:cfg.axisX,y2:cfg.bottom,stroke:'#555','stroke-width':2},g);
  
  
  umapYTicks.forEach(v=>{
    const tk=mk('line',{x1:cfg.axisX-5,x2:cfg.axisX,y1:fy(v),y2:fy(v),stroke:'#555','stroke-width':1.5},g);
    
    
    const t=txt(g,cfg.axisX-7,fy(v),minus(v),16,'end');
    
    
  });
  cfg.zero.forEach((z,i)=>{
    const fx=u=>z+cfg.ux*u;
    const facet=mk('g',{},g);
    
    
    const clusters=mk('g',{filter:'url(#soft)'},facet);
    
    
    layersList[i].forEach(L=>{
      const col=umapColors[L[0]];
      if(L[1]==='d'){
        L[2].forEach(p=>{
          const c=mk('circle',{cx:fx(p[0]),cy:fy(p[1]),r:1.6,fill:col,opacity:.75},clusters);
          
          
        });
      }else{
        const pg=mk('path',{d:smooth(L[2],fx,fy),fill:col,stroke:col,'stroke-width':2.5,'stroke-linejoin':'round','stroke-linecap':'round',opacity:L[1]},clusters);
        
        
      }
    });
    labelsList[i].forEach(l=>{
      const t=txt(facet,fx(l[1]),fy(l[2]),l[0],13,'middle',{style:'fill:#333'});
      
      
    });
    const xa=mk('line',{x1:cfg.seg[i][0],x2:cfg.seg[i][1],y1:cfg.bottom,y2:cfg.bottom,stroke:'#777','stroke-width':3},g);
    
    
    umapXTicks.forEach(u=>{
      const tk=mk('line',{x1:fx(u),x2:fx(u),y1:cfg.bottom,y2:cfg.bottom+5,stroke:'#555','stroke-width':1.5},g);
      
      
      const t=txt(g,fx(u),cfg.tickY,minus(u),16);
      
      
    });
    const st=txt(g,cfg.titleX[i],cfg.titleY,titles[i],14,'middle',(boldAll||i>0)?{'font-weight':'bold'}:{});
    
    
  });
  umapLegendNames.forEach((n,i)=>{
    const y=cfg.legY+15.5*i;
    const c=mk('circle',{cx:1933,cy:y,r:4.5,fill:umapColors[n]},g);
    
    
    const t=txt(g,1949,y,n,17,'start');
    
    
  });
  const a=txt(g,1416,cfg.mainY,'Cell type',20);
  
  
  const b=txt(g,cfg.xlX,cfg.xlY,'umap_1',16);
  
  
  const c2=txt(g,cfg.ylX,cfg.ylY,'umap_2',16,'middle',{transform:'rotate(-90 '+cfg.ylX+' '+cfg.ylY+')'});
  
  
}
umap(document.getElementById('pB'),{axisX:954,top:83,bottom:489,y0:299,sy:15.53,zero:[1092,1333,1571,1813],ux:8.78,
  seg:[[956,1187],[1196,1427],[1435,1668],[1676,1909]],tickY:503,titleX:[1042,1311,1551,1791],titleY:75,legY:171,mainY:36,xlX:1431,xlY:523,ylX:915,ylY:291},
  [od1Layers,od2Layers,od4Layers,od7Layers],[od1Labels,od2Labels,od4Labels,od7Labels],['OD1','OD2','OD4','OD7'],false);
umap(document.getElementById('pD'),{axisX:949,top:644,bottom:1050,y0:862,sy:15.47,zero:[1087,1330,1571,1813],ux:8.82,
  seg:[[949,1183],[1191,1425],[1432,1668],[1675,1909]],tickY:1065,titleX:[1065,1308,1550,1791],titleY:635,legY:731,mainY:610,xlX:1427,xlY:1084,ylX:907,ylY:840},
  [yd0Layers,yd2Layers,yd4Layers,yd7Layers],[yd0Labels,yd2Labels,yd4Labels,yd7Labels],['YD0','YD2','YD4','YD7'],true);

/* ===== Panel C ===== */
(function(){
  const g=document.getElementById('pC');
  const stacks=[stack0D0,stack0D2,stack0D4,stack0D7,stackYD0,stackYD2,stackYD4,stackYD7];
  const fy=v=>1035-340*v, fx=i=>166.7+74.14*i, bw=66;
  const box=mk('rect',{x:123,y:678,width:608,height:374,fill:'#fff',stroke:'#ccc','stroke-width':2},g);
  
  
  stackTicks.forEach(v=>{
    const gl=mk('line',{x1:124,x2:730,y1:fy(v),y2:fy(v),stroke:'#f1f1f1','stroke-width':1},g);
    
    
    const tk=mk('line',{x1:107,x2:123,y1:fy(v),y2:fy(v),stroke:'#888','stroke-width':2},g);
    
    
    const t=txt(g,103,fy(v),v.toFixed(2),16,'end');
    
    
  });
  stackSamples.forEach((s,i)=>{
    let top=1;
    stacks[i].forEach((val,j)=>{
      if(val<=0)return;
      const bottom=top-val;
      const r=mk('rect',{x:fx(i)-bw/2,y:fy(top),width:bw,height:fy(bottom)-fy(top),fill:tableau[stackTypes[j]]},g);
      
      
      top=bottom;
    });
    const tk=mk('line',{x1:fx(i),x2:fx(i),y1:1052,y2:1065,stroke:'#888','stroke-width':2},g);
    
    
    const t=txt(g,fx(i),1075,s,16);
    
    
  });
  stackTypes.forEach((n,i)=>{
    const y=719+18.25*i;
    const sw=mk('rect',{x:752,y:y,width:18,height:18.25,fill:tableau[n]},g);
    
    
    const t=txt(g,774,y+9,n,17.5,'start');
    
    
  });
  const a=txt(g,426.5,1094,'Sample',16);
  
  
  const b=txt(g,53,869,'Proportion',16,'middle',{transform:'rotate(-90 53 869)'});
  
  
  const c=txt(g,118,663,'Cell proportion',16,'start');
  
  
})();

/* ===== Panels E & F ===== */
function lineChart(g,cfg,young,aged,yTicks){
  const fx=d=>cfg.x0+cfg.ux*d, fy=v=>cfg.y0-cfg.uy*v;
  const axY=mk('line',{x1:cfg.x0,x2:cfg.x0,y1:fy(yTicks[yTicks.length-1]),y2:cfg.y0,stroke:'#222','stroke-width':2},g);
  
  
  const axX=mk('line',{x1:cfg.x0-1,x2:fx(8)+1,y1:cfg.y0,y2:cfg.y0,stroke:'#333','stroke-width':3},g);
  
  
  yTicks.forEach(v=>{
    const tk=mk('line',{x1:cfg.x0-10,x2:cfg.x0,y1:fy(v),y2:fy(v),stroke:'#222','stroke-width':2},g);
    
    
    const t=txt(g,cfg.x0-15,fy(v),String(v),20,'end');
    
    
  });
  dayTicks.forEach(d=>{
    const tk=mk('line',{x1:fx(d),x2:fx(d),y1:cfg.y0,y2:cfg.y0+10,stroke:'#222','stroke-width':2},g);
    
    
    const t=txt(g,fx(d),1524,String(d),20);
    
    
  });
  const ag=mk('polyline',{points:dayValues.map((d,i)=>fx(d)+','+fy(aged[i])).join(' '),fill:'none',stroke:'#f07a76','stroke-width':3},g);
  
  
  const yo=mk('polyline',{points:dayValues.map((d,i)=>fx(d)+','+fy(young[i])).join(' '),fill:'none',stroke:'#25b3b5','stroke-width':3},g);
  
  
  dayValues.forEach((d,i)=>{
    const s=mk('rect',{x:fx(d)-5.5,y:fy(aged[i])-5.5,width:11,height:11,fill:'#f07a76'},g);
    
    
    const c=mk('circle',{cx:fx(d),cy:fy(young[i]),r:6,fill:'#25b3b5'},g);
    
    
  });
  const a=txt(g,cfg.titleX,1183,cfg.title,23);
  
  
  const b=txt(g,cfg.daysX,1555,'Days',20);
  
  
  const c3=txt(g,cfg.ylX,cfg.ylY,'Number of cells',23.5,'middle',{transform:'rotate(-90 '+cfg.ylX+' '+cfg.ylY+')'});
  
  
}
lineChart(document.getElementById('pE'),{x0:160,ux:50.7,y0:1495.7,uy:.3385,title:'Ec',titleX:365,daysX:363,ylX:87,ylY:1359},ecYoung,ecAged,ecYTicks);
lineChart(document.getElementById('pF'),{x0:771,ux:50.25,y0:1495.7,uy:.1345,title:'Fib',titleX:974,daysX:972,ylX:684,ylY:1367},fibYoung,fibAged,fibYTicks);
(function(){
  const g=document.getElementById('pF');
  const l1=mk('line',{x1:1103,x2:1132,y1:1204,y2:1204,stroke:'#25b3b5','stroke-width':3},g);
  
  
  const c=mk('circle',{cx:1117,cy:1204,r:6,fill:'#25b3b5'},g);
  
  
  const t1=txt(g,1134,1204,'Young',19,'start');
  
  
  const l2=mk('line',{x1:1103,x2:1132,y1:1240,y2:1240,stroke:'#f07a76','stroke-width':3},g);
  
  
  const s=mk('rect',{x:1111.5,y:1234.5,width:11,height:11,fill:'#f07a76'},g);
  
  
  const t2=txt(g,1134,1240,'Aged',19,'start');
  
  
})();

/* ===== Panels G-J ===== */
function volcano(g,c,d){
  const fx=u=>c.x0+c.ux*u, fy=v=>c.y0-c.uy*v;
  const COL={down:'#27308a',up:'#d81f26',stable:'#bdbdbd'};
  const frame=mk('rect',{x:c.box[0],y:c.box[1],width:c.box[2]-c.box[0],height:c.box[3]-c.box[1],fill:'#fff',stroke:'#bbb','stroke-width':2},g);
  
  
  d.xt.forEach(u=>{
    const gl=mk('line',{x1:fx(u),x2:fx(u),y1:c.box[1]+1,y2:c.box[3]-1,stroke:'#f4f4f4','stroke-width':1},g);
    
    
    const t=txt(g,fx(u),c.tickY,minus(u),21);
    
    
  });
  d.yt.forEach(v=>{
    const gl=mk('line',{x1:c.box[0]+1,x2:c.box[2]-1,y1:fy(v),y2:fy(v),stroke:'#f4f4f4','stroke-width':1},g);
    
    
    const t=txt(g,c.tickR,fy(v),String(v),21,'end');
    
    
  });
  const shape=(list,col,op,sw)=>{
    const p=mk('path',{d:smooth(list,fx,fy),fill:col,stroke:col,'stroke-width':sw,'stroke-linejoin':'round',opacity:op},g);
    
    
  };
  shape(d.stableCore,COL.stable,1,10);
  shape(d.stableHalo,COL.stable,.8,8);
  shape(d.downHalo,COL.down,c.halo,9);
  shape(d.upHalo,COL.up,c.halo,9);
  shape(d.downCore,COL.down,1,9);
  shape(d.upCore,COL.up,1,9);
  d.stable.forEach(p=>{
    const e=mk('circle',{cx:fx(p[0]),cy:fy(p[1]),r:5,fill:COL.stable,opacity:.6},g);
    
    
  });
  d.down.forEach(p=>{
    const e=mk('circle',{cx:fx(p[0]),cy:fy(p[1]),r:5.4,fill:COL.down,opacity:.6},g);
    
    
  });
  d.up.forEach(p=>{
    const e=mk('circle',{cx:fx(p[0]),cy:fy(p[1]),r:5.4,fill:COL.up,opacity:.6},g);
    
    
  });
  [-.25,.25].forEach(u=>{
    const l=mk('line',{x1:fx(u),x2:fx(u),y1:c.box[1],y2:c.box[3],stroke:'#333','stroke-width':2,'stroke-dasharray':'7 3 2 3'},g);
    
    
  });
  const hl=mk('line',{x1:c.box[0],x2:c.box[2],y1:fy(1.3),y2:fy(1.3),stroke:'#333','stroke-width':2,'stroke-dasharray':'7 3 2 3'},g);
  
  
  const labelRow=(row,side)=>{
    const y=fy(row[1]);
    const line=mk('line',{y1:y,x2:fx(row[2]),y2:fy(row[3]),stroke:'#dedede','stroke-width':2},g);
    
    
    const rect=mk('rect',{y:y-8.5,height:17,rx:3,fill:'#fff',stroke:'#999','stroke-width':1.6},g);
    
    
    const t=txt(g,0,y,row[0],11,'start',{style:'fill:#555'});
    
    
    const w=t.getComputedTextLength()+10;
    const left=side==='L'?c.lx:c.rx-w;
    rect.setAttribute('x',left);
    rect.setAttribute('width',w);
    t.setAttribute('x',left+5);
    line.setAttribute('x1',side==='L'?left+w:left);
  };
  d.left.forEach(r=>labelRow(r,'L'));
  d.right.forEach(r=>labelRow(r,'R'));
  const a=txt(g,c.xlX,c.xlY,d.xl,20);
  
  
  const b=txt(g,c.ylX,c.ylY,'\u2212Log10 (Pvalue)',20,'middle',{transform:'rotate(-90 '+c.ylX+' '+c.ylY+')'});
  
  
  const h=txt(g,c.legX,c.legT,'Change',17,'start');
  
  
  const dn=mk('circle',{cx:c.legM,cy:c.legY[0],r:4.5,fill:'#6a6ab8'},g);
  
  
  const dnT=txt(g,c.legM+6.5,c.legY[0],'Down',17,'start');
  
  
  const st=mk('circle',{cx:c.legM,cy:c.legY[1],r:4.5,fill:'#dcdcdc'},g);
  
  
  const stT=txt(g,c.legM+6.5,c.legY[1],'Stable',17,'start');
  
  
  const up=mk('circle',{cx:c.legM,cy:c.legY[2],r:4.5,fill:'#ea7d7d'},g);
  
  
  const upT=txt(g,c.legM+6.5,c.legY[2],'Up',17,'start');
  
  
}
volcano(document.getElementById('pG'),{halo:.65,x0:1673,ux:30.53,y0:1543.3,uy:11.44,box:[1407,1138,1954.5,1564],tickY:1579,tickR:1402,lx:1422,rx:1924,xlX:1715.5,xlY:1600,ylX:1358,ylY:1381,legX:1956,legT:1319,legM:1968.5,legY:[1340,1360,1380]},
 {xt:gXTicks,yt:gYTicks,up:gUp,down:gDown,stable:gStable,downCore:gDownCore,downHalo:gDownHalo,upCore:gUpCore,upHalo:gUpHalo,stableCore:gStableCore,stableHalo:gStableHalo,left:gLeftLabels,right:gRightLabels,xl:'avg_log2FC  Ec Day 0'});
volcano(document.getElementById('pH'),{halo:.58,x0:306,ux:24.4,y0:2044,uy:46.5,box:[91,1653,624,2063],tickY:2077,tickR:84,lx:106,rx:508,xlX:380,xlY:2098,ylX:50.5,ylY:1869,legX:628,legT:1824,legM:640.5,legY:[1847,1866,1885]},
 {xt:hXTicks,yt:hYTicks,up:hUp,down:hDown,stable:hStable,downCore:hDownCore,downHalo:hDownHalo,upCore:hUpCore,upHalo:hUpHalo,stableCore:hStableCore,stableHalo:hStableHalo,left:hLeftLabels,right:hRightLabels,xl:'avg_log2FC  Ec Day 2'});
volcano(document.getElementById('pI'),{halo:.78,x0:1007,ux:30.3,y0:2037,uy:33.4,box:[740,1646,1273.6,2057],tickY:2070,tickR:734,lx:755,rx:1257,xlX:1042,xlY:2098,ylX:708,ylY:1872,legX:1278,legT:1819,legM:1289,legY:[1841,1859,1878]},
 {xt:iXTicks,yt:iYTicks,up:iUp,down:iDown,stable:iStable,downCore:iDownCore,downHalo:iDownHalo,upCore:iUpCore,upHalo:iUpHalo,stableCore:iStableCore,stableHalo:iStableHalo,left:iLeftLabels,right:iRightLabels,xl:'avg_log2FC  Ec Day 4'});
volcano(document.getElementById('pJ'),{halo:.72,x0:1675,ux:30.3,y0:2037,uy:18.63,box:[1412,1646,1940,2057],tickY:2070,tickR:1408,lx:1427,rx:1925,xlX:1718,xlY:2091,ylX:1372,ylY:1872,legX:1943,legT:1820,legM:1954,legY:[1841,1859,1878]},
 {xt:jXTicks,yt:jYTicks,up:jUp,down:jDown,stable:jStable,downCore:jDownCore,downHalo:jDownHalo,upCore:jUpCore,upHalo:jUpHalo,stableCore:jStableCore,stableHalo:jStableHalo,left:jLeftLabels,right:jRightLabels,xl:'avg_log2FC  Ec Day 7'});
</script>
</body>
</html>
